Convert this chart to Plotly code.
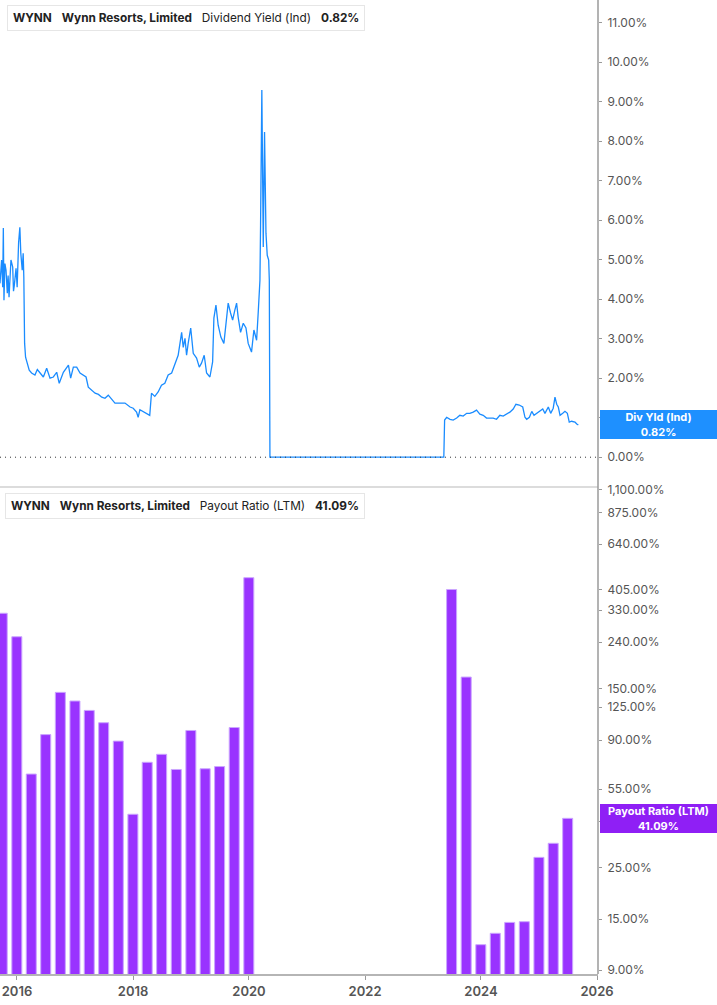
import numpy as np
import plotly.graph_objects as go

# Dividend yield (Ind), %
yield_dates = [
    "2015-09-10", "2015-09-16", "2015-09-26", "2015-10-03", "2015-10-07", "2015-10-11",
    "2015-10-17", "2015-10-24", "2015-11-01", "2015-11-06", "2015-11-12", "2015-11-18",
    "2015-11-24", "2015-12-05", "2015-12-10", "2015-12-15", "2015-12-26", "2016-01-02",
    "2016-01-11", "2016-01-19", "2016-01-25", "2016-02-03", "2016-02-09", "2016-02-13",
    "2016-02-18", "2016-02-24", "2016-03-05", "2016-03-18", "2016-04-02", "2016-04-23",
    "2016-05-08", "2016-05-25", "2016-06-15", "2016-07-06", "2016-07-27", "2016-08-17",
    "2016-09-07", "2016-09-23", "2016-10-19", "2016-11-20", "2016-12-04", "2016-12-21",
    "2017-01-11", "2017-02-01", "2017-02-22", "2017-03-11", "2017-03-25", "2017-04-16",
    "2017-05-07", "2017-05-28", "2017-06-18", "2017-07-08", "2017-07-29", "2017-08-19",
    "2017-09-09", "2017-10-11", "2017-11-11", "2017-12-13", "2018-01-02", "2018-01-23",
    "2018-02-02", "2018-02-13", "2018-03-05", "2018-03-27", "2018-04-16", "2018-04-27",
    "2018-05-18", "2018-06-08", "2018-06-29", "2018-07-20", "2018-08-10", "2018-09-01",
    "2018-09-21", "2018-10-12", "2018-11-03", "2018-11-13", "2018-11-24", "2018-12-04",
    "2018-12-14", "2018-12-30", "2019-01-15", "2019-02-05", "2019-02-22", "2019-03-08",
    "2019-03-25", "2019-04-09", "2019-04-30", "2019-05-17", "2019-05-25", "2019-06-07",
    "2019-06-21", "2019-07-08", "2019-07-27", "2019-08-09", "2019-08-23", "2019-09-07",
    "2019-09-20", "2019-10-04", "2019-10-15", "2019-10-25", "2019-11-09", "2019-11-26",
    "2019-12-13", "2019-12-27", "2020-01-17", "2020-02-01", "2020-02-18", "2020-02-28",
    "2020-03-10", "2020-03-14", "2020-03-22", "2020-03-31", "2020-04-08", "2020-04-17",
    "2020-04-25", "2020-05-04", "2020-05-08", "2020-05-12", "2023-05-12", "2023-05-17",
    "2023-05-30", "2023-06-20", "2023-07-10", "2023-08-01", "2023-08-21", "2023-09-11",
    "2023-10-03", "2023-10-23", "2023-11-13", "2023-12-04", "2023-12-25", "2024-01-15",
    "2024-02-05", "2024-02-26", "2024-03-18", "2024-04-08", "2024-04-29", "2024-05-20",
    "2024-06-10", "2024-07-01", "2024-07-22", "2024-08-08", "2024-08-29", "2024-09-20",
    "2024-10-04", "2024-10-15", "2024-11-01", "2024-11-16", "2024-11-30", "2024-12-17",
    "2025-01-07", "2025-01-24", "2025-02-07", "2025-02-28", "2025-03-15", "2025-03-31",
    "2025-04-11", "2025-04-22", "2025-05-02", "2025-05-13", "2025-05-30", "2025-06-13",
    "2025-06-28", "2025-07-10", "2025-07-25", "2025-08-15", "2025-08-26", "2025-09-05",
]
yield_values = [
    4.60, 4.40, 4.99, 4.30, 5.80, 3.97,
    4.90, 4.73, 4.15, 4.60, 4.05, 4.50,
    4.99, 4.81, 4.20, 4.35, 4.78, 4.30,
    5.42, 5.82, 5.16, 4.73, 5.16, 4.56,
    2.88, 2.53, 2.38, 2.20, 2.13, 2.08,
    2.22, 2.13, 2.03, 2.25, 2.00, 2.03,
    2.15, 1.87, 2.15, 2.33, 2.00, 2.28,
    2.28, 2.13, 2.08, 2.03, 1.77, 1.70,
    1.62, 1.59, 1.52, 1.49, 1.57, 1.47,
    1.37, 1.37, 1.37, 1.27, 1.24, 1.14,
    1.01, 1.20, 1.15, 1.09, 1.06, 1.62,
    1.54, 1.65, 1.82, 1.87, 2.08, 2.13,
    2.33, 2.58, 3.16, 2.78, 3.01, 2.58,
    2.88, 3.27, 2.63, 2.51, 2.28, 2.38,
    2.58, 2.13, 2.03, 2.41, 3.52, 3.85,
    3.34, 3.04, 2.88, 3.47, 3.90, 3.65,
    3.47, 3.72, 3.90, 3.54, 3.16, 3.39,
    3.27, 2.88, 2.66, 3.22, 2.96, 3.65,
    4.48, 5.87, 9.29, 5.32, 8.23, 5.67,
    5.11, 4.99, 4.48, 0.00, 0.00, 0.94,
    1.01, 0.96, 0.94, 0.99, 1.06, 1.04,
    1.11, 1.11, 1.14, 1.19, 1.09, 1.06,
    0.99, 0.99, 0.99, 0.96, 1.06, 1.04,
    1.09, 1.14, 1.22, 1.34, 1.32, 1.27,
    1.01, 0.96, 1.01, 1.16, 1.06, 1.11,
    1.19, 1.22, 1.11, 1.27, 1.11, 1.24,
    1.52, 1.34, 1.27, 1.06, 1.11, 1.16,
    1.11, 0.89, 0.91, 0.89, 0.84, 0.82,
]

# Payout ratio (LTM), % per quarter
payout_dates = [
    "2015-09-30", "2015-12-31", "2016-03-31", "2016-06-30", "2016-09-30", "2016-12-31",
    "2017-03-31", "2017-06-30", "2017-09-30", "2017-12-31", "2018-03-31", "2018-06-30",
    "2018-09-30", "2018-12-31", "2019-03-31", "2019-06-30", "2019-09-30", "2019-12-31",
    "2023-06-30", "2023-09-30", "2023-12-31", "2024-03-31", "2024-06-30", "2024-09-30",
    "2024-12-31", "2025-03-31", "2025-06-30",
]
payout_values = [
    320, 253, 64, 95, 145, 133,
    121, 107, 89, 42.8, 72, 78,
    67, 99, 67.5, 69, 102, 457,
    406, 169, 11.6, 13.0, 14.5, 14.6,
    27.8, 32.0, 41.09,
]

yield_ticks = list(range(0, 12))
payout_ticks = [9, 15, 25, 40, 55, 90, 125, 150, 240, 330, 405, 640, 875, 1100]

BLUE = "#1a8cff"
PURPLE = "#9933ff"
GRID_TXT = "#555555"
FONT = "Inter"

fig = go.Figure()
fig.add_trace(go.Scatter(
    x=yield_dates, y=yield_values, mode="lines",
    line=dict(color=BLUE, width=1.3), xaxis="x", yaxis="y",
))
fig.add_trace(go.Bar(
    x=payout_dates, y=payout_values, xaxis="x", yaxis="y2",
    width=63 * 86400000,
    marker=dict(color=PURPLE, line=dict(color="#cba6ff", width=1)),
))

fig.update_layout(
    width=717, height=1005,
    margin=dict(l=0, r=119, t=0, b=31),
    paper_bgcolor="white", plot_bgcolor="white",
    showlegend=False,
    font=dict(family=FONT, size=12, color=GRID_TXT),
    xaxis=dict(
        domain=[0, 1], anchor="y2", automargin=False,
        range=["2015-09-16", "2026-01-07"],
        tick0="2016-01-01", dtick="M24", tickformat="%Y",
        showgrid=False, zeroline=False,
        showline=True, linecolor="#b5b5b5", linewidth=2,
        ticks="outside", ticklen=4, tickcolor="#999999",
        tickfont=dict(family=FONT, size=13, color=GRID_TXT, weight=600),
    ),
    yaxis=dict(
        domain=[0.503, 1], side="right", anchor="x", automargin=False,
        range=[-0.68, 11.57],
        tickvals=yield_ticks,
        ticktext=[f"{v:.2f}%" for v in yield_ticks],
        showgrid=False, zeroline=False,
        ticks="outside", ticklen=3, tickcolor="#999999", ticklabelstandoff=3,
        tickfont=dict(family=FONT, size=12, color=GRID_TXT),
    ),
    yaxis2=dict(
        domain=[0, 0.497], side="right", anchor="x", automargin=False,
        type="log", range=[np.log10(8.65), np.log10(1100)],
        tickvals=payout_ticks,
        ticktext=[f"{v:,.2f}%" for v in payout_ticks],
        showgrid=False, zeroline=False,
        ticks="outside", ticklen=3, tickcolor="#999999", ticklabelstandoff=3,
        tickfont=dict(family=FONT, size=12, color=GRID_TXT),
    ),
)

# zero reference line, separator and right axis line
fig.add_shape(type="line", xref="paper", yref="y", x0=0, x1=1, y0=0, y1=0,
              line=dict(color="#333333", width=1, dash="1px,4px"))
fig.add_shape(type="line", xref="paper", yref="paper", x0=0, x1=1, y0=0.5, y1=0.5,
              line=dict(color="#dcdcdc", width=2))
fig.add_shape(type="line", xref="paper", yref="paper", x0=1, x1=1, y0=0, y1=1.001,
              line=dict(color="#9a9a9a", width=1.5))

sp = "\u00a0\u00a0\u00a0"
# legend boxes
fig.add_annotation(
    xref="paper", yref="paper", x=7 / 598, y=(974 - 5) / 974,
    xanchor="left", yanchor="top", showarrow=False, align="left",
    text=f"<b>WYNN</b>{sp}<b>Wynn Resorts, Limited</b>{sp}Dividend Yield (Ind){sp}<b>0.82%</b>",
    font=dict(family=FONT, size=11.8, color="#222222"),
    bgcolor="white", bordercolor="#e6e6e6", borderwidth=1, borderpad=5,
)
fig.add_shape(type="rect", xref="paper", yref="paper",
              x0=7 / 598, x1=10 / 598, y0=(974 - 30) / 974, y1=(974 - 5) / 974,
              line=dict(width=0), fillcolor=BLUE)
fig.add_annotation(
    xref="paper", yref="paper", x=5 / 598, y=(974 - 493) / 974,
    xanchor="left", yanchor="top", showarrow=False, align="left",
    text=f"<b>WYNN</b>{sp}<b>Wynn Resorts, Limited</b>{sp}Payout Ratio (LTM){sp}<b>41.09%</b>",
    font=dict(family=FONT, size=11.8, color="#222222"),
    bgcolor="white", bordercolor="#e6e6e6", borderwidth=1, borderpad=5,
)
fig.add_shape(type="rect", xref="paper", yref="paper",
              x0=5 / 598, x1=8 / 598, y0=(974 - 518) / 974, y1=(974 - 493) / 974,
              line=dict(width=0), fillcolor=PURPLE)

# last-value labels on the right axis
fig.add_annotation(
    xref="paper", yref="y", x=1, y=yield_values[-1], xshift=2,
    xanchor="left", yanchor="middle", showarrow=False, align="center",
    text="<b>Div Yld (Ind)</b><br><b>0.82%</b>",
    font=dict(family=FONT, size=11, color="white"),
    bgcolor="#1e90ff", width=113, height=25, borderpad=2, borderwidth=0,
)
fig.add_annotation(
    xref="paper", yref="y2", x=1, y=np.log10(payout_values[-1]), xshift=2,
    xanchor="left", yanchor="middle", showarrow=False, align="center",
    text="<b>Payout Ratio (LTM)</b><br><b>41.09%</b>",
    font=dict(family=FONT, size=11, color="white"),
    bgcolor="#8f1ff5", width=113, height=25, borderpad=2, borderwidth=0,
)

fig.write_html(
    "out.html",
    config={"displayModeBar": False},
    post_script="document.body.style.margin='0';document.body.style.overflow='hidden';",
)
